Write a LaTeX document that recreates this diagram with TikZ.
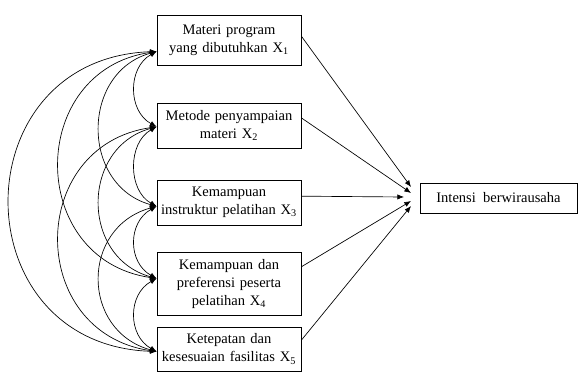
\documentclass[tikz,border=0pt]{standalone}
\usepackage{fontspec}
\setmainfont{Liberation Serif}
\usepackage{tikz}
\usetikzlibrary{arrows.meta}

\begin{document}
\begin{tikzpicture}[
  x=0.75pt,y=0.75pt,font=\fontsize{10.9}{13.5}\selectfont,
  box/.style={draw=black,line width=0.6pt,align=center,inner sep=1pt,
              minimum width=108pt,text width=105pt},
  ar/.style={-{Latex[length=5pt,width=4pt]},draw=black,line width=0.5pt},
  dar/.style={{Latex[length=5pt,width=4pt]}-{Latex[length=5pt,width=4pt]},draw=black,line width=0.5pt}
]
\useasboundingbox (0,0) rectangle (578,-372);

% ---- variabel bebas
\node[box,minimum height=37.5pt] (x1) at (229,-40)    {Materi program\\ yang dibutuhkan X\textsubscript{1}};
\node[box,minimum height=33.75pt] (x2) at (229,-125.5) {Metode penyampaian\\ materi X\textsubscript{2}};
\node[box,minimum height=33.75pt] (x3) at (229,-202.5) {Kemampuan\\ instruktur pelatihan X\textsubscript{3}};
\node[box,minimum height=47.25pt] (x4) at (229,-283.5) {Kemampuan dan\\ preferensi peserta\\ pelatihan X\textsubscript{4}};
\node[box,minimum height=33pt] (x5) at (229,-349)      {Ketepatan dan\\ kesesuaian fasilitas X\textsubscript{5}};

% ---- variabel terikat
\node[draw=black,line width=0.6pt,minimum width=117.75pt,minimum height=22.5pt] (y) at (498.5,-198) {Intensi\ \ berwirausaha};

% ---- ujung panah
\coordinate (t1) at (411,-187);
\coordinate (t2) at (411,-193);
\coordinate (t3) at (404,-197);
\coordinate (t4) at (411,-201);
\coordinate (t5) at (411,-206);

% ---- panah ke Y
\draw[ar] (x1.3)  -- (t1);
\draw[ar] (x2.6)  -- (t2);
\draw[ar] (x3.5)  -- (t3);
\draw[ar] (x4.13) -- (t4);
\draw[ar] (x5.7)  -- (t5);

% ---- korelasi antar X
\draw[dar] (x1.189.5) .. controls +(-29,-16) and +(-29,16) .. (x2.181);
\draw[dar] (x2.181) .. controls +(-29,-16) and +(-29,16) .. (x3.183.6);
\draw[dar] (x3.183.6) .. controls +(-29,-16) and +(-29,16) .. (x4.176.4);
\draw[dar] (x4.176.4) .. controls +(-29,-16) and +(-29,16) .. (x5.182.4);
\draw[dar] (x1.189.5) .. controls +(-76,-21) and +(-76,21) .. (x3.183.6);
\draw[dar] (x2.181) .. controls +(-76,-21) and +(-76,21) .. (x4.176.4);
\draw[dar] (x3.183.6) .. controls +(-76,-21) and +(-76,21) .. (x5.182.4);
\draw[dar] (x1.189.5) .. controls +(-130,-19) and +(-130,19) .. (x4.176.4);
\draw[dar] (x2.181) .. controls +(-130,-19) and +(-130,19) .. (x5.182.4);
\draw[dar] (x1.189.5) .. controls +(-196,-7) and +(-196,7) .. (x5.182.4);
\end{tikzpicture}
\end{document}
